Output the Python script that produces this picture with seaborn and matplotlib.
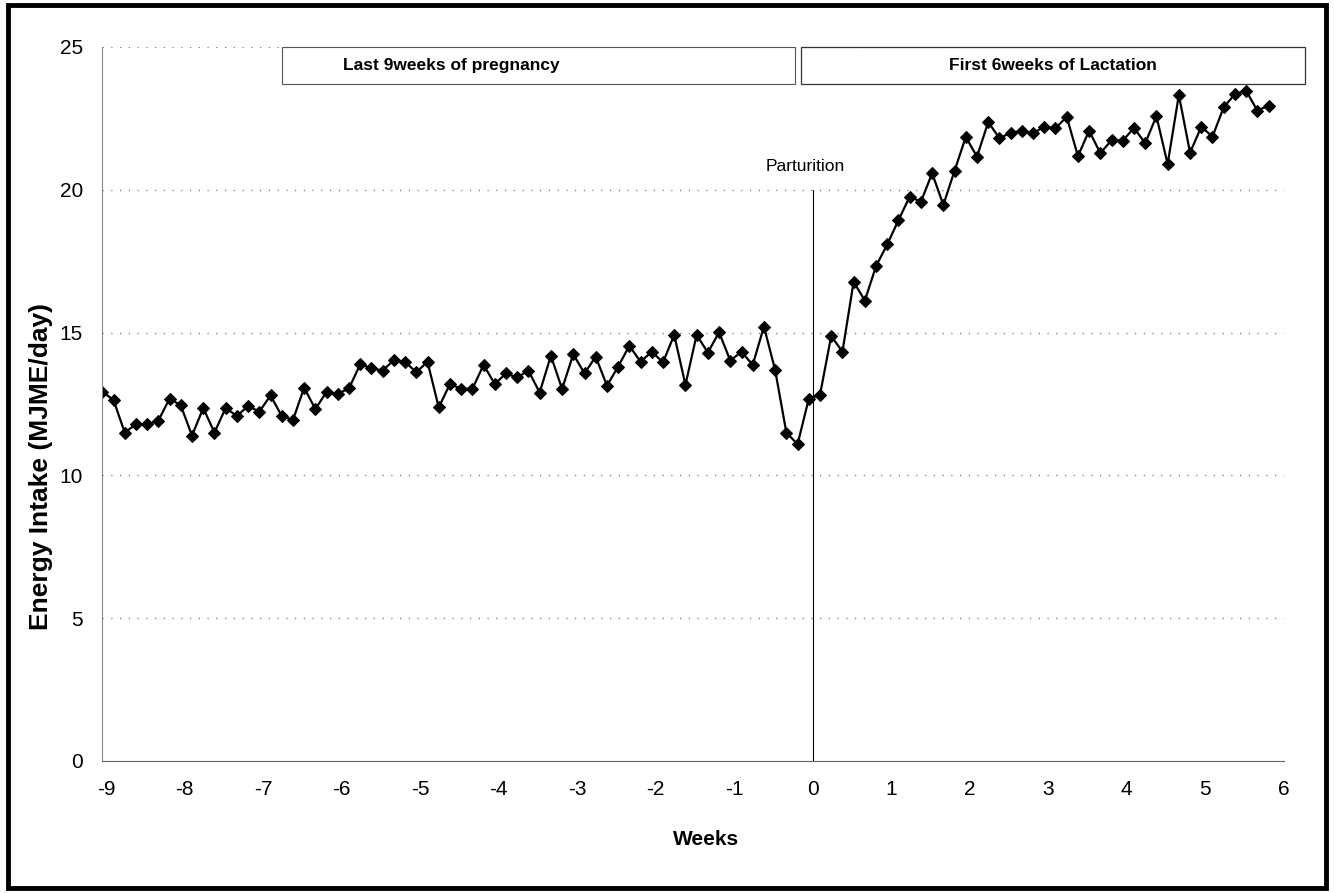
import matplotlib
matplotlib.use("Agg")
import matplotlib.pyplot as plt
from matplotlib.patches import Rectangle
import numpy as np
import pandas as pd
import seaborn as sns

# daily energy intake, from 9 weeks before parturition to 6 weeks after
day = np.arange(-63, 42)
intake = [
    12.93, 12.64, 11.50, 11.79, 11.79, 11.92, 12.69, 12.45, 11.39, 12.36,
    11.50, 12.36, 12.08, 12.43, 12.23, 12.80, 12.08, 11.94, 13.07, 12.32,
    12.93, 12.85, 13.05, 13.89, 13.75, 13.67, 14.04, 13.98, 13.61, 13.98,
    12.38, 13.20, 13.03, 13.03, 13.87, 13.20, 13.57, 13.43, 13.67, 12.90,
    14.19, 13.03, 14.24, 13.57, 14.16, 13.14, 13.81, 14.54, 13.98, 14.33,
    13.96, 14.92, 13.17, 14.92, 14.30, 15.01, 14.02, 14.33, 13.87, 15.21,
    13.69, 11.50, 11.09, 12.68, 12.82, 14.88, 14.33, 16.78, 16.12, 17.33,
    18.09, 18.94, 19.76, 19.58, 20.58, 19.47, 20.67, 21.85, 21.16, 22.37,
    21.81, 21.99, 22.06, 21.98, 22.21, 22.15, 22.56, 21.18, 22.07, 21.28,
    21.74, 21.72, 22.17, 21.63, 22.58, 20.90, 23.32, 21.30, 22.21, 21.86,
    22.89, 23.35, 23.47, 22.77, 22.95,
]
x_ticks = list(range(-9, 7))
y_ticks = [0, 5, 10, 15, 20, 25]

df = pd.DataFrame({"weeks": day / 7 - 0.05, "intake": intake})

sns.set_style("white")
plt.rcParams["font.family"] = ["Liberation Sans", "DejaVu Sans"]
plt.rcParams["axes.unicode_minus"] = False
plt.rcParams["text.color"] = "black"
plt.rcParams["axes.labelcolor"] = "black"

fig = plt.figure(figsize=(13.34, 8.93), dpi=100)
ax = fig.add_axes([102.3 / 1334, (893 - 761) / 893, 1181.4 / 1334, 714 / 893])

sns.lineplot(data=df, x="weeks", y="intake", ax=ax, color="black",
             linewidth=1.6, marker="D", markersize=6.5,
             markeredgecolor="black", markerfacecolor="black")

ax.set_xlim(-9.05, 6.0)
ax.set_ylim(0, 25)
ax.set_xticks(x_ticks)
ax.set_yticks(y_ticks)
ax.tick_params(axis="both", labelsize=15, colors="black", length=5, width=0.8)
ax.tick_params(axis="x", direction="inout", length=8, pad=10)
ax.tick_params(axis="y", direction="out", length=4, pad=10)
for t in ax.get_xticklabels() + ax.get_yticklabels():
    t.set_color("black")

ax.yaxis.grid(True, linestyle=(0, (1, 6)), color="#777777", linewidth=0.9)
ax.xaxis.grid(False)
for side in ["top", "right"]:
    ax.spines[side].set_visible(False)
ax.spines["left"].set_color("#888888")
ax.spines["left"].set_linewidth(0.8)
ax.spines["bottom"].set_color("#666666")
ax.spines["bottom"].set_linewidth(0.8)

ax.set_xlabel("Weeks", fontsize=15, fontweight="bold")
ax.xaxis.set_label_coords((706 - 102.3) / 1181.4, -0.097)
ax.set_ylabel("Energy Intake (MJME/day)", fontsize=19, fontweight="bold")
ax.yaxis.set_label_coords(-0.042, (761 - 467) / 714)

# parturition marker
ax.plot([0, 0], [0, 20], color="black", linewidth=0.8)
ax.text(-0.1, 20.55, "Parturition", fontsize=12.5, ha="center", va="bottom")

# period boxes
ax.add_patch(Rectangle((-6.76, 23.7), 6.53, 1.3, fill=False, edgecolor="#555555",
                       linewidth=0.8, clip_on=False))
ax.text(-4.6, 24.35, "Last 9weeks of pregnancy", fontsize=12.5, fontweight="bold",
        ha="center", va="center")
ax.add_patch(Rectangle((-0.15, 23.7), 6.42, 1.3, fill=False, edgecolor="#333333",
                       linewidth=0.9, clip_on=False))
ax.text(3.06, 24.35, "First 6weeks of Lactation", fontsize=12.5, fontweight="bold",
        ha="center", va="center")

# outer frame
fig.patches.append(Rectangle((0.006, 0.006), 0.988, 0.988, transform=fig.transFigure,
                             fill=False, edgecolor="black", linewidth=3.5))

fig.savefig("out.png", dpi=100)
